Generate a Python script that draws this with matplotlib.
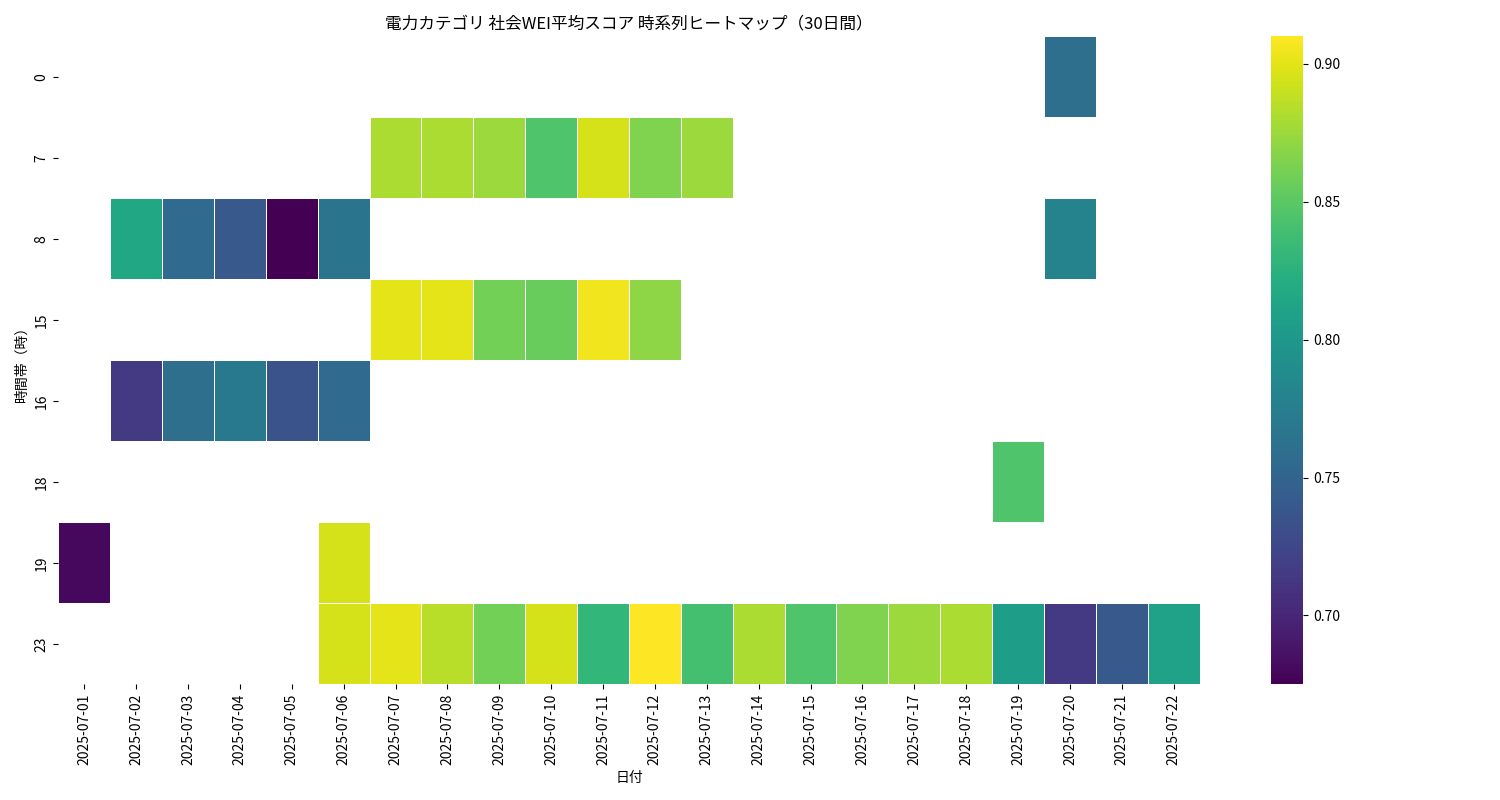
import matplotlib
matplotlib.use("Agg")
import matplotlib.pyplot as plt
import seaborn as sns
import numpy as np
import pandas as pd

plt.rcParams["font.family"] = "Noto Sans CJK JP"

dates = [f"2025-07-{d:02d}" for d in range(1, 23)]
hours = [0, 7, 8, 15, 16, 18, 19, 23]

row_0 = {"2025-07-20": 0.76}
row_7 = {"2025-07-07": 0.88, "2025-07-08": 0.88, "2025-07-09": 0.875, "2025-07-10": 0.845,
         "2025-07-11": 0.895, "2025-07-12": 0.865, "2025-07-13": 0.875}
row_8 = {"2025-07-02": 0.815, "2025-07-03": 0.755, "2025-07-04": 0.74, "2025-07-05": 0.675,
         "2025-07-06": 0.765, "2025-07-20": 0.78}
row_15 = {"2025-07-07": 0.90, "2025-07-08": 0.90, "2025-07-09": 0.86, "2025-07-10": 0.855,
          "2025-07-11": 0.905, "2025-07-12": 0.87}
row_16 = {"2025-07-02": 0.715, "2025-07-03": 0.76, "2025-07-04": 0.77, "2025-07-05": 0.735,
          "2025-07-06": 0.755}
row_18 = {"2025-07-19": 0.845}
row_19 = {"2025-07-01": 0.68, "2025-07-06": 0.895}
row_23 = {"2025-07-06": 0.895, "2025-07-07": 0.90, "2025-07-08": 0.885, "2025-07-09": 0.86,
          "2025-07-10": 0.895, "2025-07-11": 0.83, "2025-07-12": 0.91, "2025-07-13": 0.84,
          "2025-07-14": 0.88, "2025-07-15": 0.845, "2025-07-16": 0.865, "2025-07-17": 0.875,
          "2025-07-18": 0.88, "2025-07-19": 0.805, "2025-07-20": 0.715, "2025-07-21": 0.74,
          "2025-07-22": 0.81}

rows = [row_0, row_7, row_8, row_15, row_16, row_18, row_19, row_23]
df = pd.DataFrame([[r.get(d, np.nan) for d in dates] for r in rows], index=hours, columns=dates)

fig, ax = plt.subplots(figsize=(15, 8), dpi=100)
sns.heatmap(df, cmap="viridis", linewidths=0.5, linecolor="white", ax=ax)
ax.set_title("電力カテゴリ 社会WEI平均スコア 時系列ヒートマップ（30日間）")
ax.set_xlabel("日付")
ax.set_ylabel("時間帯（時）")
plt.tight_layout()
fig.savefig("out.png")
